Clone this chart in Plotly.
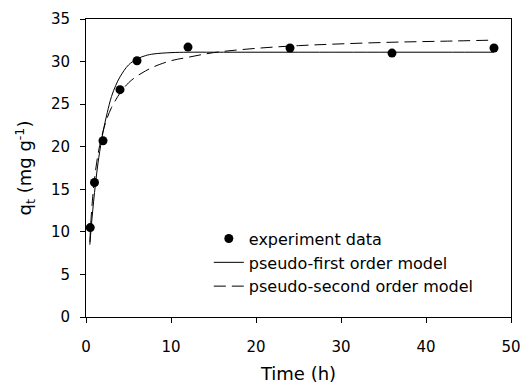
import plotly.graph_objects as go

# experiment data
t_exp = [0.5, 1, 2, 4, 6, 12, 24, 36, 48]
q_exp = [10.5, 15.8, 20.7, 26.7, 30.1, 31.7, 31.6, 31.0, 31.6]

# model curves
t_fit = [0.45, 0.6, 0.8, 1, 1.25, 1.5, 2, 2.5, 3, 3.5, 4, 5, 6, 7, 8, 10, 12, 15, 20, 25, 30, 36, 42, 48]
q_pfo = [8.5, 10.4, 12.6, 14.6, 16.8, 18.7, 21.7, 24.0, 25.9, 27.2, 28.2, 29.6, 30.3, 30.7, 30.9, 31.05,
         31.1, 31.1, 31.1, 31.1, 31.1, 31.1, 31.1, 31.1]
q_pso = [8.8, 11.6, 14.2, 16.2, 18.1, 19.6, 21.8, 23.4, 24.6, 25.5, 26.3, 27.5, 28.3, 28.9, 29.4, 30.1,
         30.5, 31.05, 31.55, 31.87, 32.08, 32.27, 32.39, 32.52]

x_ticks = [0, 10, 20, 30, 40, 50]
y_ticks = [0, 5, 10, 15, 20, 25, 30, 35]

FONT = "DejaVu Sans, Arial, sans-serif"

fig = go.Figure()
fig.add_trace(go.Scatter(x=t_exp, y=q_exp, mode="markers", name="experiment data",
                         marker=dict(color="black", size=9, line=dict(width=0))))
fig.add_trace(go.Scatter(x=t_fit, y=q_pfo, mode="lines", name="pseudo-first order model",
                         line=dict(color="black", width=1, shape="spline")))
fig.add_trace(go.Scatter(x=t_fit, y=q_pso, mode="lines", name="pseudo-second order model",
                         line=dict(color="black", width=1, dash="12px,6px", shape="spline")))

axis_common = dict(showline=True, linecolor="black", linewidth=1, mirror=True,
                   ticks="outside", ticklen=5, tickwidth=1, tickcolor="black",
                   showgrid=False, zeroline=False, automargin=False,
                   tickfont=dict(family=FONT, size=15, color="black"))

fig.update_layout(
    width=523, height=384,
    margin=dict(l=86, r=12, t=19, b=67),
    paper_bgcolor="white", plot_bgcolor="white",
    font=dict(family=FONT, color="black"),
    showlegend=True,
    legend=dict(x=0.289, y=0.32, xanchor="left", yanchor="top",
                bgcolor="rgba(0,0,0,0)", font=dict(family=FONT, size=16, color="black"),
                tracegroupgap=0),
    xaxis=dict(range=[0, 50], tickvals=x_ticks, ticklabelstandoff=11,
               title=dict(text="Time (h)", font=dict(family=FONT, size=18), standoff=12),
               **axis_common),
    yaxis=dict(range=[0, 35], tickvals=y_ticks, ticklabelstandoff=7,
               title=dict(text="q<sub>t</sub> (mg g<sup>-1</sup>)", font=dict(family=FONT, size=18), standoff=14),
               **axis_common),
)

fig.write_html("out.html")
